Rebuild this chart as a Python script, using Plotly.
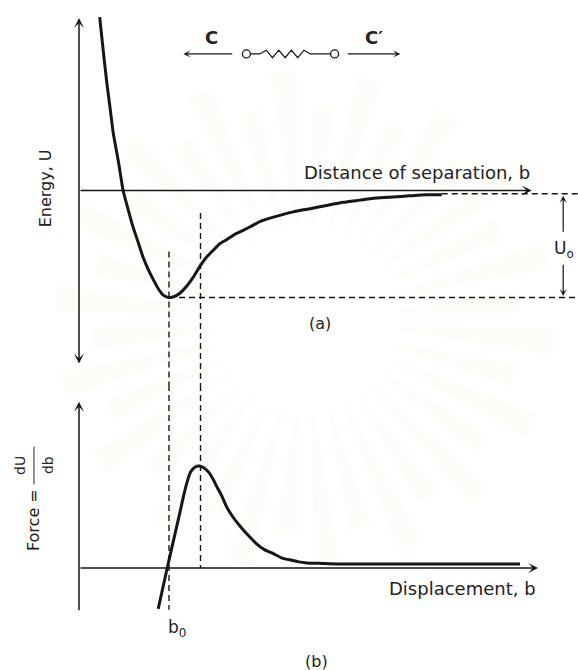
import math
import plotly.graph_objects as go

# ---- data -------------------------------------------------------------
# (a) interatomic potential energy U(b); b0 = 1, U0 = 1
ENERGY_B = [0.23, 0.27, 0.31, 0.35, 0.38, 0.44, 0.49, 0.55, 0.60, 0.66,
            0.71, 0.77, 0.83, 0.89, 0.94, 1.00, 1.06, 1.12, 1.20, 1.27,
            1.35, 1.42, 1.49, 1.56, 1.64, 1.73, 1.83, 1.92, 2.01, 2.20,
            2.38, 2.57, 2.75, 2.94, 3.12, 3.30, 3.49, 3.67, 3.86, 4.03]
ENERGY_U = [1.62, 1.30, 1.00, 0.74, 0.54, 0.26, 0.00, -0.19, -0.34, -0.49,
            -0.62, -0.74, -0.84, -0.93, -0.98, -1.00, -0.99, -0.96, -0.89, -0.81,
            -0.70, -0.62, -0.56, -0.50, -0.46, -0.41, -0.37, -0.33, -0.29, -0.24,
            -0.20, -0.17, -0.14, -0.11, -0.09, -0.07, -0.06, -0.05, -0.04, -0.04]
ENERGY_TAIL_U = -0.03          # dashed asymptote level to the right
B0 = 1.00                      # equilibrium separation
B_PEAK = 1.35                  # separation of maximum restoring force
U0 = -1.00                     # depth of the energy well

# (b) force dU/db
FORCE_B = [0.88, 0.98, 1.05, 1.12, 1.16, 1.20, 1.24, 1.29, 1.34, 1.39,
           1.44, 1.49, 1.53, 1.59, 1.64, 1.71, 1.79, 1.88, 1.97, 2.06,
           2.16, 2.25, 2.34, 2.44, 2.53, 2.70, 2.90, 4.90]
FORCE_F = [-0.40, 0.00, 0.27, 0.54, 0.70, 0.84, 0.94, 0.99, 1.00, 0.98,
           0.94, 0.87, 0.80, 0.70, 0.60, 0.50, 0.41, 0.32, 0.24, 0.18,
           0.14, 0.10, 0.08, 0.06, 0.05, 0.045, 0.04, 0.04]

# ---- styling ----------------------------------------------------------
INK = "#161616"
TXT = "#222222"
FONT = "DejaVu Sans"
DASH = "6px,4px"

X_RANGE = [-0.8778, 5.5444]
TOP_RANGE = [-1.8178, 1.7804]
BOT_RANGE = [-1.0, 1.794]
SPLIT = 0.42537
W, H = 578, 670

fig = go.Figure()

def line(x, y, panel, width=1.4, dash=None, color=INK, shape="linear"):
    ax = {"top": ("x", "y"), "bot": ("x2", "y2")}[panel]
    fig.add_trace(go.Scatter(
        x=x, y=y, mode="lines", xaxis=ax[0], yaxis=ax[1],
        line=dict(color=color, width=width, dash=dash, shape=shape,
                  smoothing=0.5),
        hoverinfo="skip", showlegend=False))

# energy curve and its dashed asymptote
line(ENERGY_B, ENERGY_U, "top", width=3.0, shape="spline")
line([ENERGY_B[-1], X_RANGE[1]], [ENERGY_TAIL_U, ENERGY_TAIL_U], "top", dash=DASH)
# dashed well-depth level
line([B0, X_RANGE[1]], [U0, U0], "top", dash=DASH)

# force curve
line(FORCE_B, FORCE_F, "bot", width=3.0, shape="spline")

# dashed verticals at b0 and at the force maximum, running through both panels
line([B0, B0], [-0.57, TOP_RANGE[0]], "top", dash=DASH)
line([B0, B0], [BOT_RANGE[1], -0.41], "bot", dash=DASH)
line([B_PEAK, B_PEAK], [-0.21, TOP_RANGE[0]], "top", dash=DASH)
line([B_PEAK, B_PEAK], [BOT_RANGE[1], 0.0], "bot", dash=DASH)

# fraction bar of dU/db
line([-0.5, -0.5], [0.82, 1.19], "bot", width=1.0, color=TXT)

# spring sketch between C and C'
SPRING_X = [1.91, 2.01, 2.08, 2.15, 2.22, 2.29, 2.36, 2.43, 2.50, 2.57, 2.80]
SPRING_Y = [0, 0, 1, -1, 1, -1, 1, -1, 1, 0, 0]
SPRING_Y0, SPRING_AMP = 1.276, 0.035
line(SPRING_X, [SPRING_Y0 + SPRING_AMP * s for s in SPRING_Y], "top", width=1.2)

annotations = []

def arrow(x_tip, y_tip, x_tail, y_tail, panel, both=False, width=1.5, size=1.1):
    xr, yr = {"top": ("x", "y"), "bot": ("x2", "y2")}[panel]
    annotations.append(dict(
        x=x_tip, y=y_tip, ax=x_tail, ay=y_tail, xref=xr, yref=yr,
        axref=xr, ayref=yr, text="", showarrow=True, arrowhead=3,
        arrowsize=size, arrowwidth=width, arrowcolor=INK,
        arrowside="end+start" if both else "end",
        startarrowhead=3, startarrowsize=size, standoff=0, startstandoff=0))

# axes of (a)
arrow(0, 1.612, 0, -1.631, "top", both=True)
arrow(5.03, 0, 0, 0, "top")
# axes of (b)
arrow(0, 1.63, 0, -0.428, "bot")
arrow(5.10, 0, 0, 0, "bot")
# U0 dimension arrows
arrow(5.38, -0.05, 5.38, -0.40, "top", width=1.2, size=1.0)
arrow(5.38, -0.985, 5.38, -0.68, "top", width=1.2, size=1.0)
# spring pull arrows
arrow(1.16, SPRING_Y0, 1.72, SPRING_Y0, "top", width=1.2, size=1.0)
arrow(3.57, SPRING_Y0, 2.97, SPRING_Y0, "top", width=1.2, size=1.0)

def label(text, x, y, panel, size=17, angle=0, xanchor="center"):
    xr, yr = {"top": ("x", "y"), "bot": ("x2", "y2")}[panel]
    annotations.append(dict(
        x=x, y=y, xref=xr, yref=yr, text=text, showarrow=False,
        textangle=angle, xanchor=xanchor, yanchor="middle",
        font=dict(family=FONT, size=size, color=TXT)))

label("Distance of separation, b", 5.03, 0.17, "top", size=18, xanchor="right")
label("Energy, U", -0.378, 0.02, "top", size=16, angle=-90)
label("U<sub>o</sub>", 5.39, -0.55, "top", size=17)
label("(a)", 2.68, -1.24, "top", size=16)
label("<b>C</b>", 1.47, 1.43, "top", size=18)
label("<b>C\u2032</b>", 3.28, 1.43, "top", size=18)

label("Displacement, b", 5.10, -0.20, "bot", size=18, xanchor="right")
label("b<sub>0</sub>", 1.09, -0.59, "bot", size=17)
label("(b)", 2.64, -0.92, "bot", size=16)
label("Force =", -0.511, 0.47, "bot", size=16, angle=-90)
label("dU", -0.656, 1.01, "bot", size=14, angle=-90)
label("db", -0.344, 1.01, "bot", size=14, angle=-90)

shapes = []
for cx in (1.86, 2.84):
    shapes.append(dict(type="circle", xref="x", yref="y",
                       xsizemode="pixel", ysizemode="pixel",
                       xanchor=cx, yanchor=SPRING_Y0,
                       x0=-4, x1=4, y0=-4, y1=4,
                       line=dict(color=INK, width=1.3), fillcolor="white"))

# very faint sunburst watermark behind the drawing
CX, CY = 305, 320
for i in range(36):
    a = math.radians(i * 10 + 5)
    half = math.radians(3.0)
    r0 = 95
    r1 = 250 if i % 2 == 0 else 215
    pts = [(CX + r0 * math.cos(a - half * 0.4), CY + r0 * math.sin(a - half * 0.4)),
           (CX + r1 * math.cos(a - half), CY + r1 * math.sin(a - half)),
           (CX + r1 * math.cos(a + half), CY + r1 * math.sin(a + half)),
           (CX + r0 * math.cos(a + half * 0.4), CY + r0 * math.sin(a + half * 0.4))]
    path = "M " + " L ".join(f"{px / W:.4f},{1 - py / H:.4f}" for px, py in pts) + " Z"
    shapes.append(dict(type="path", xref="paper", yref="paper", path=path,
                       fillcolor="rgba(240, 200, 120, 0.05)",
                       line=dict(width=0), layer="below"))

hidden = dict(visible=False, showgrid=False, zeroline=False, fixedrange=True)
fig.update_layout(
    width=W, height=H,
    margin=dict(l=0, r=0, t=0, b=0),
    paper_bgcolor="white", plot_bgcolor="rgba(0,0,0,0)",
    xaxis=dict(range=X_RANGE, domain=[0, 1], anchor="y", **hidden),
    yaxis=dict(range=TOP_RANGE, domain=[SPLIT, 1], anchor="x", **hidden),
    xaxis2=dict(range=X_RANGE, domain=[0, 1], anchor="y2", matches="x", **hidden),
    yaxis2=dict(range=BOT_RANGE, domain=[0, SPLIT], anchor="x2", **hidden),
    annotations=annotations,
    shapes=shapes,
    showlegend=False,
)

fig.write_html("out.html")
